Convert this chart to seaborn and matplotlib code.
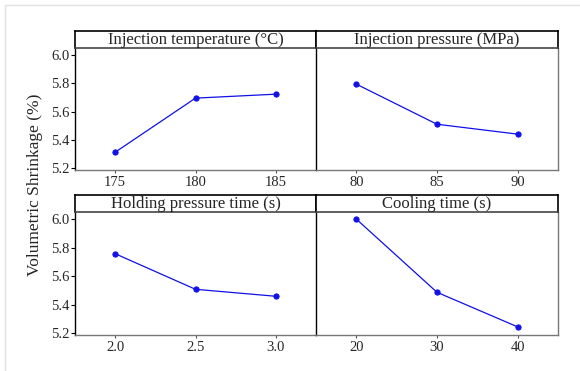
import matplotlib
matplotlib.use("Agg")
import matplotlib.pyplot as plt
import numpy as np
import pandas as pd
import seaborn as sns
from matplotlib.lines import Line2D

# factor names and levels
factors = ["Injection temperature (°C)", "Injection pressure (MPa)",
           "Holding pressure time (s)", "Cooling time (s)"]
levels = [["175", "180", "185"],
          ["80", "85", "90"],
          ["2.0", "2.5", "3.0"],
          ["20", "30", "40"]]
# mean volumetric shrinkage (%) at each level
means = [[5.312, 5.695, 5.723],
         [5.794, 5.510, 5.440],
         [5.757, 5.507, 5.458],
         [6.000, 5.486, 5.243]]
yticks = [5.2, 5.4, 5.6, 5.8, 6.0]

sns.set_style("white")
plt.rcParams["font.family"] = ["Liberation Serif", "DejaVu Serif"]

fig = plt.figure(figsize=(5.8, 3.71), dpi=100)

W, H = 580.0, 371.0
cols = [(75, 316), (316, 558)]
rows = [(31, 48, 170), (195, 212, 335)]

for k in range(4):
    r, c = divmod(k, 2)
    x0, x1 = cols[c]
    yh, ya, yb = rows[r]
    ax = fig.add_axes([x0 / W, 1 - yb / H, (x1 - x0) / W, (yb - ya) / H])
    df = pd.DataFrame({"level": levels[k], "mean": means[k]})
    sns.pointplot(data=df, x="level", y="mean", order=levels[k], ax=ax,
                  color="#1010e8", markers="o", linewidth=0.9,
                  markersize=3.8, errorbar=None)
    ax.set_xlim(-0.5, 2.5)
    ax.set_ylim(5.186, 6.05)
    ax.set_xlabel("")
    ax.set_ylabel("")
    ax.set_yticks(yticks)
    if c == 0:
        ax.set_yticklabels([f"{v:.1f}" for v in yticks])
        ax.tick_params(axis="y", length=3, width=0.8, color="black",
                       labelsize=10.5, pad=1, direction="out", left=True)
    else:
        ax.tick_params(axis="y", left=False, labelleft=False)
    ax.tick_params(axis="x", length=2.5, width=0.8, color="#555555",
                   labelsize=10.5, pad=2, bottom=True)
    for s in ["left", "right", "bottom", "top"]:
        ax.spines[s].set_linewidth(1.0)
    ax.spines["left"].set_color("black")
    ax.spines["top"].set_visible(False)
    ax.spines["bottom"].set_color("#777777")
    ax.spines["right"].set_color("#777777")
    if c == 0:
        ax.spines["right"].set_visible(False)

    hx = fig.add_axes([x0 / W, 1 - ya / H, (x1 - x0) / W, (ya - yh) / H])
    hx.set_xticks([])
    hx.set_yticks([])
    for s in hx.spines.values():
        s.set_color("black")
        s.set_linewidth(1.2)
    hx.spines["bottom"].set_color("#444444")
    hx.text(0.5, 0.45, factors[k], ha="center", va="center",
            fontsize=12, transform=hx.transAxes)

fig.text(35 / W, 1 - 185 / H, "Volumetric Shrinkage (%)", rotation=90,
         ha="center", va="center", fontsize=12.5)

# light outer frame lines
fig.add_artist(Line2D([5 / W, 1], [1 - 5 / H, 1 - 5 / H], color="#e0e0e0",
                      linewidth=1, transform=fig.transFigure))
fig.add_artist(Line2D([5 / W, 5 / W], [0, 1 - 5 / H], color="#e0e0e0",
                      linewidth=1, transform=fig.transFigure))

fig.savefig("out.png", dpi=100)
